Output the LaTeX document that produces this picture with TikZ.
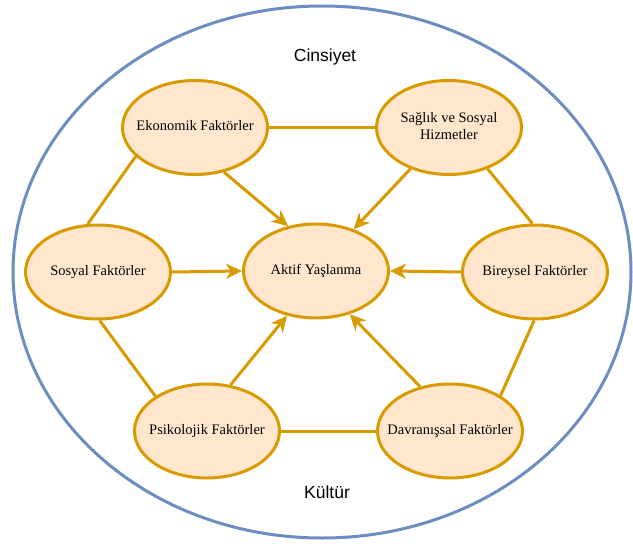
\documentclass[tikz,border=0pt]{standalone}
\usepackage{fontspec}
\setmainfont{Liberation Serif}
\newfontfamily\arialf{Liberation Sans}
\usetikzlibrary{arrows.meta,shapes.geometric}
\definecolor{gold}{HTML}{D79B00}
\definecolor{peach}{HTML}{FFE6CC}
\definecolor{outerblue}{HTML}{6C8EBF}
\newcommand{\fixedtext}[1]{\makebox[0pt][c]{\begin{tabular}{@{}c@{}}#1\end{tabular}}}
\begin{document}
\begin{tikzpicture}[x=1pt,y=-1pt,
  factor/.style={ellipse, draw=gold, fill=peach, line width=3pt,
    minimum width=145pt, minimum height=94pt, inner sep=0pt,
    font=\fontsize{14.5}{17}\selectfont},
  link/.style={draw=gold, line width=3pt},
  arr/.style={link, -{Stealth[length=16pt,width=15pt,inset=5pt]}},
  ringtext/.style={anchor=base, inner sep=0pt, font=\arialf\fontsize{17.5}{20}\selectfont}]
\useasboundingbox (0,0) rectangle (633,544);
\node[draw=outerblue, line width=3pt, ellipse, minimum width=618pt,
  minimum height=532pt, inner sep=0pt] (ring) at (322,272) {};
\node[ringtext] (cins) at (325,61.5) {Cinsiyet};
\node[ringtext] (kul) at (327,498) {Kültür};

\node[factor] (E) at (195,127.5) {\fixedtext{Ekonomik Faktörler}};
\node[factor] (S) at (449,127.5) {\fixedtext{Sağlık ve Sosyal\\Hizmetler}};
\node[factor] (So) at (98,272) {\fixedtext{Sosyal Faktörler}};
\node[factor] (B) at (535,272) {\fixedtext{Bireysel Faktörler}};
\node[factor] (P) at (207,431) {\fixedtext{Psikolojik Faktörler}};
\node[factor] (D) at (450,431) {\fixedtext{Davranışsal Faktörler}};
\node[factor] (A) at (316,271) {\fixedtext{Aktif Yaşlanma}};

\draw[link] (E.east) -- (S.west);
\draw[link] (P.east) -- (D.west);
\draw[link] (E.206) -- (So.102);
\draw[link] (S.-47) -- (B.93);
\draw[link] (So.-88) -- (P.146);
\draw[link] (B.-91) -- (D.35);

\draw[arr] (E.-57) -- (A.122);
\draw[arr] (S.-133) -- (A.48);
\draw[arr] (So.east) -- (A.west);
\draw[arr] (B.west) -- (A.east);
\draw[arr] (P.63) -- (A.-123);
\draw[arr] (D.124) -- (A.-52);
\end{tikzpicture}
\end{document}
